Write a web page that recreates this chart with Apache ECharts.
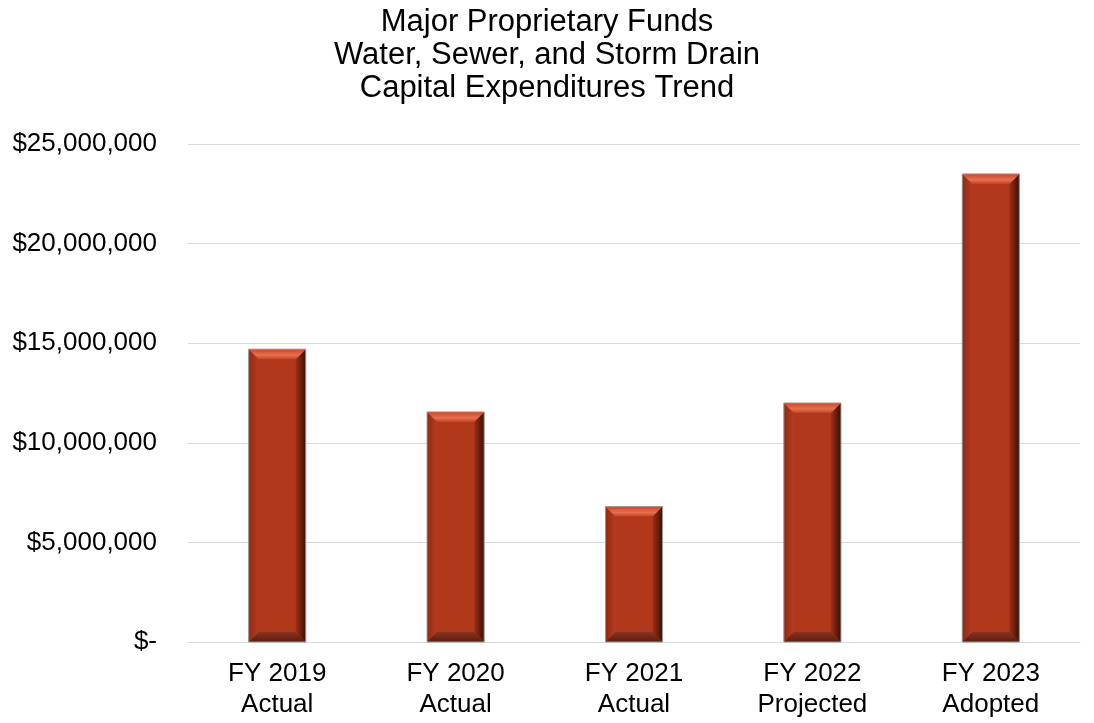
<!DOCTYPE html>
<html>
<head>
<meta charset="utf-8">
<script src="https://cdn.jsdelivr.net/npm/echarts@6/dist/echarts.min.js"></script>
<style>
html,body{margin:0;padding:0;background:#fff;}
#chart{width:1094px;height:723px;}
</style>
</head>
<body>
<div id="chart"></div>
<script>
// Capital expenditures by fiscal year
const categories = ['FY 2019\nActual', 'FY 2020\nActual', 'FY 2021\nActual', 'FY 2022\nProjected', 'FY 2023\nAdopted'];
const expenditures = [14700000, 11550000, 6800000, 12000000, 23500000];
const yTicks = [0, 5000000, 10000000, 15000000, 20000000, 25000000];

function fmtMoney(v) {
  if (v === 0) return '$-';
  return '$' + v.toLocaleString('en-US');
}

const FONT = 'Liberation Sans, Arial, sans-serif';
const chart = echarts.init(document.getElementById('chart'));

// Beveled bar drawn from the axis coordinates of each value
function renderBevelBar(params, api) {
  const idx = api.value(0);
  const val = api.value(1);
  const top = api.coord([idx, val]);
  const base = api.coord([idx, 0]);
  const bandW = api.size([1, 0])[0];
  const w = bandW * 0.32;
  const x0 = top[0] - w / 2, x1 = top[0] + w / 2;
  const y0 = top[1], y1 = base[1];
  const b = Math.min(10, (y1 - y0) / 3);
  const children = [
    { type: 'rect', shape: { x: x0, y: y0, width: w, height: y1 - y0 },
      style: { fill: '#B2381B' } },
    // left face
    { type: 'polygon', shape: { points: [[x0, y0], [x0 + b, y0 + b], [x0 + b, y1 - b], [x0, y1]] },
      style: { fill: new echarts.graphic.LinearGradient(0, 0, 1, 0, [
        { offset: 0, color: '#8f2a14' }, { offset: 1, color: '#b53c1e' }]) } },
    // right face
    { type: 'polygon', shape: { points: [[x1, y0], [x1 - b, y0 + b], [x1 - b, y1 - b], [x1, y1]] },
      style: { fill: new echarts.graphic.LinearGradient(0, 0, 1, 0, [
        { offset: 0, color: '#a02f16' }, { offset: 1, color: '#3a0f06' }]) } },
    // top face
    { type: 'polygon', shape: { points: [[x0, y0], [x1, y0], [x1 - b, y0 + b], [x0 + b, y0 + b]] },
      style: { fill: new echarts.graphic.LinearGradient(0, 0, 0, 1, [
        { offset: 0, color: '#c9472a' }, { offset: 0.6, color: '#e6704f' }, { offset: 1, color: '#c24427' }]) } },
    // bottom face
    { type: 'polygon', shape: { points: [[x0, y1], [x1, y1], [x1 - b, y1 - b], [x0 + b, y1 - b]] },
      style: { fill: new echarts.graphic.LinearGradient(0, 0, 0, 1, [
        { offset: 0, color: '#8a3220' }, { offset: 1, color: '#5e1c0c' }]) } },
    // outline
    { type: 'rect', shape: { x: x0, y: y0, width: w, height: y1 - y0 },
      style: { fill: 'none', stroke: '#9a9a9a', lineWidth: 1 } }
  ];
  return { type: 'group', children };
}

chart.setOption({
  backgroundColor: '#ffffff',
  animation: false,
  title: {
    text: 'Major Proprietary Funds\nWater, Sewer, and Storm Drain\nCapital Expenditures Trend',
    left: 'center',
    top: 1,
    textStyle: { fontFamily: FONT, fontSize: 31, fontWeight: 'normal', color: '#000', lineHeight: 33 }
  },
  grid: { left: 188, right: 14, top: 144, bottom: 81 },
  xAxis: {
    type: 'category',
    data: categories,
    axisLine: { lineStyle: { color: '#d9d9d9', width: 1 } },
    axisTick: { show: false },
    axisLabel: { color: '#000', fontSize: 26, fontFamily: FONT, lineHeight: 31, margin: 16 }
  },
  yAxis: {
    type: 'value',
    min: 0, max: 25000000, interval: 5000000,
    axisLine: { show: false },
    axisTick: { show: false },
    splitLine: { lineStyle: { color: '#d9d9d9', width: 1 } },
    axisLabel: { color: '#000', fontSize: 26, fontFamily: FONT, margin: 31,
      formatter: function (v) { return yTicks.indexOf(v) >= 0 ? fmtMoney(v) : ''; } }
  },
  series: [{
    type: 'custom',
    renderItem: renderBevelBar,
    data: expenditures.map((v, i) => [i, v]),
    encode: { x: 0, y: 1 }
  }]
});
</script>
</body>
</html>
